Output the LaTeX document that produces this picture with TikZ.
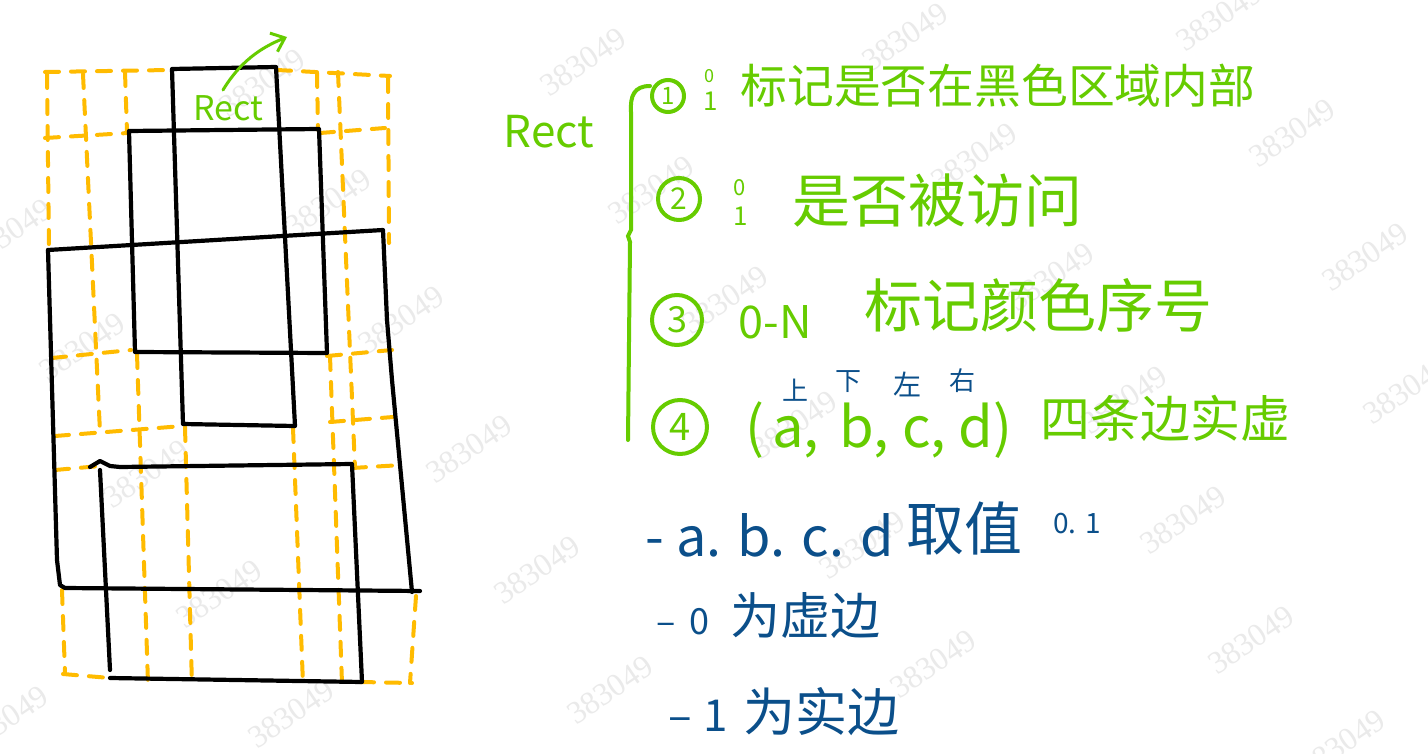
\documentclass[tikz,border=0pt]{standalone}
\usepackage{fontspec}
\newfontfamily\cjk{Noto Sans CJK SC}
\newfontfamily\wmfont{Liberation Serif}
\usetikzlibrary{arrows.meta}
\definecolor{hgreen}{HTML}{66CC00}
\definecolor{hblue}{HTML}{0B4F8A}
\definecolor{horange}{HTML}{FFBB00}
\definecolor{wmark}{HTML}{EAEAEA}
\newcommand\hfs[1]{\fontsize{#1}{#1}\selectfont}
\begin{document}
\begin{tikzpicture}[x=0.5pt,y=-0.5pt,
  blk/.style={line width=2.1pt, line cap=round, line join=round, black},
  org/.style={line width=2pt, horange, dash pattern=on 7pt off 6pt, line cap=round},
  gtxt/.style={text=hgreen, inner sep=0pt},
  btxt/.style={text=hblue, inner sep=0pt},
  cnum/.style={circle, draw=hgreen, line width=2pt, text=hgreen, inner sep=0pt},
  wm/.style={text=wmark, rotate=34, inner sep=0pt, font=\wmfont\hfs{16}}]
\useasboundingbox (0,0) rectangle (1428,754);
\fill[white] (0,0) rectangle (1428,754);
% watermarks
\foreach \i/\x/\y in {1/583/62, 2/262/83, 3/9/233, 4/651/190, 5/328/203, 6/82/347, 7/401/320,
  8/905/37, 9/1219/17, 10/1292/133, 11/974/157, 12/1365/257, 13/725/300, 14/1051/277,
  15/469/449, 16/146/474, 17/219/594, 18/537/570, 19/291/714, 20/5/720, 21/610/690,
  22/1124/400, 23/794/425, 24/1406/390, 25/862/545, 26/1183/520, 27/933/664, 28/1251/640,
  29/1342/744}
  \node[wm] (wm\i) at (\x,\y) {383049};
% orange dashed grid
\draw[org] (45,72) -- (170,70);
\draw[org] (277,70) -- (390,76);
\draw[org] (47,74) -- (49,250);
\draw[org] (83,74) -- (100,432);
\draw[org] (125,72) -- (127,132);
\draw[org] (317,73) -- (318,130);
\draw[org] (338,72) -- (355,468);
\draw[org] (388,78) -- (389,243);
\draw[org] (45,138) -- (128,133);
\draw[org] (320,133) -- (385,128);
\draw[org] (52,358) -- (131,350);
\draw[org] (327,356) -- (392,350);
\draw[org] (55,436) -- (183,426);
\draw[org] (330,422) -- (393,417);
\draw[org] (55,470) -- (100,466);
\draw[org] (352,468) -- (402,465);
\draw[org] (63,674) -- (110,678);
\draw[org] (360,682) -- (412,683);
\draw[org] (62,590) -- (65,673);
\draw[org] (137,354) -- (148,683);
\draw[org] (185,427) -- (192,686);
\draw[org] (293,428) -- (303,684);
\draw[org] (330,356) -- (342,683);
\draw[org] (416,596) -- (410,683);
% black rectangles
\draw[blk] (172,69) -- (276,67) -- (295,426) -- (183,424) -- cycle;
\draw[blk] (129,131) -- (319,129) -- (327,353) -- (135,352) -- cycle;
\draw[blk] (48,250) -- (383,230) -- (387,320) -- (392,380) -- (412,592);
\draw[blk] (48,250) -- (57,560) -- (60,585) -- (65,588) -- (420,591);
\draw[blk] (90,467) -- (100,461) -- (110,466) -- (120,467) -- (352,464) -- (362,682) -- (110,678);
\draw[blk] (100,470) -- (110,670);
% Rect label in sketch with arrow
\node[gtxt, font=\cjk\hfs{17}] (rectT) at (228,108) {Rect};
\coordinate (arrS) at (223,90);
\coordinate (arrE) at (287,37);
\draw[hgreen, line width=1.5pt, line cap=round, -{Straight Barb[length=6pt,width=10pt]}] (arrS) .. controls (240,62) and (260,48) .. (arrE);
% brace and Rect
\node[gtxt, font=\cjk\hfs{22}] (rectL) at (549,132) {Rect};
\draw[hgreen, line width=2pt, line cap=round] (650,86) .. controls (634,86) and (630,96) .. (631,112) -- (631,230) -- (628,236) -- (630,242) -- (628,440);
% green items
\node[cnum, minimum size=16pt, font=\cjk\hfs{12}] (c1) at (668,96) {1};
\node[cnum, minimum size=21pt, font=\cjk\hfs{15}] (c2) at (679,199) {2};
\node[cnum, minimum size=25pt, font=\cjk\hfs{18}] (c3) at (677,320) {3};
\node[cnum, minimum size=27pt, font=\cjk\hfs{19}] (c4) at (680,427) {4};
\node[gtxt, font=\cjk\hfs{9}] (m1a) at (709,76) {0};
\node[gtxt, font=\cjk\hfs{13}] (m1b) at (711,101) {1};
\node[gtxt, font=\cjk\hfs{11}] (m2a) at (740,188) {0};
\node[gtxt, font=\cjk\hfs{13}] (m2b) at (741,216) {1};
\node[gtxt, anchor=west, font=\cjk\hfs{23.4}] (t1) at (740,86) {标记是否在黑色区域内部};
\node[gtxt, anchor=west, font=\cjk\hfs{29}] (t2) at (792,201) {是否被访问};
\node[gtxt, anchor=west, font=\cjk\hfs{22.5}] (t3a) at (738,322) {0-N};
\node[gtxt, anchor=west, font=\cjk\hfs{29}] (t3b) at (864,305) {标记颜色序号};
\node[gtxt, anchor=west, font=\cjk\hfs{28}] (t4a) at (745,430) {(\hspace{4pt}a,\hspace{4pt} b,\hspace{0pt} c,\hspace{0pt} d)};
\node[gtxt, anchor=west, font=\cjk\hfs{25}] (t4b) at (1040,418) {四条边实虚};
\node[btxt, font=\cjk\hfs{13}] (u1) at (795,390) {上};
\node[btxt, font=\cjk\hfs{13}] (u2) at (848,382) {下};
\node[btxt, font=\cjk\hfs{14}] (u3) at (907,384) {左};
\node[btxt, font=\cjk\hfs{13}] (u4) at (962,381) {右};
% blue notes
\node[btxt, anchor=west, font=\cjk\hfs{27}] (b1a) at (645,535) {- a. b. c. d};
\node[btxt, anchor=west, font=\cjk\hfs{29}] (b1b) at (906,528) {取值};
\node[btxt, anchor=west, font=\cjk\hfs{14}] (b1c) at (1053,524) {0. 1};
\node[btxt, anchor=west, font=\cjk\hfs{18}] (b2a) at (656,622) {–\hspace{7pt}0};
\node[btxt, anchor=west, font=\cjk\hfs{25}] (b2b) at (730,616) {为虚边};
\node[btxt, anchor=west, font=\cjk\hfs{22}] (b3a) at (668,716) {–\hspace{6pt}1};
\node[btxt, anchor=west, font=\cjk\hfs{26}] (b3b) at (743,712) {为实边};
\end{tikzpicture}
\end{document}
